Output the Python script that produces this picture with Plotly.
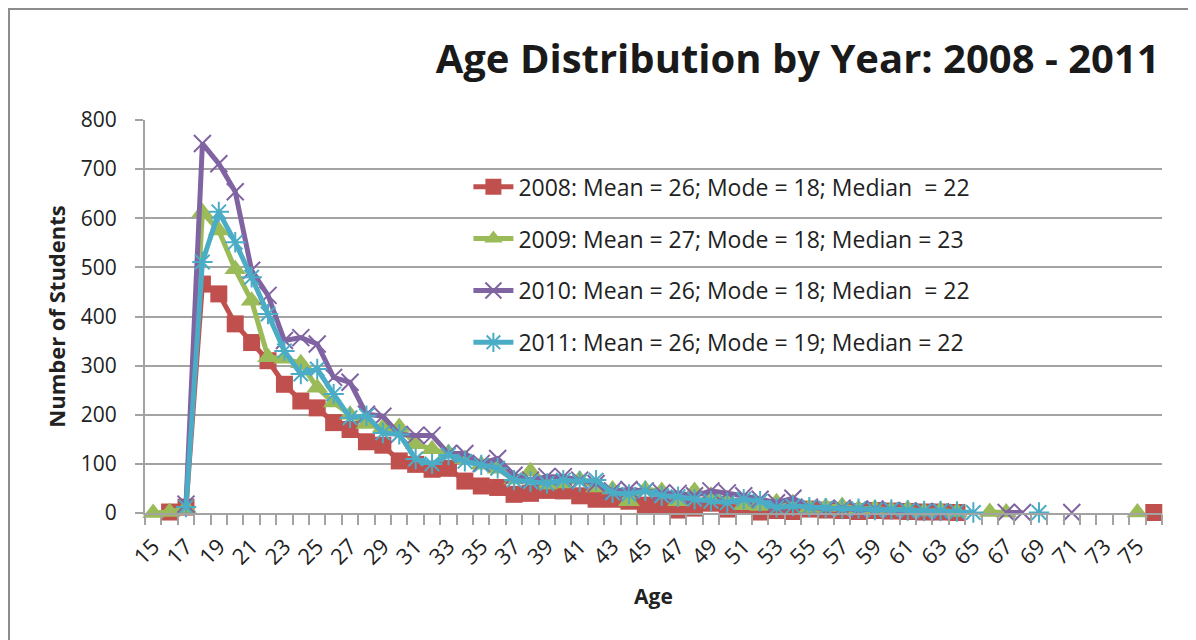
import plotly.graph_objects as go

# ages on the category axis
ages = list(range(15, 77))
age_labels = [str(a) for a in range(15, 76, 2)]

# number of students per age (None = no students that age)
students_2008 = [
    None, 2, 12, 466, 446, 385, 347, 310, 262, 228,
    214, 184, 170, 145, 138, 106, 99, 89, 91, 65,
    55, 52, 38, 40, 46, 45, 35, 28, 28, 24,
    16, 16, 6, 10, 20, 8, 14, 2, 5, 3,
    8, 6, 5, 3, 5, 4, 3, 2, 2, 1,
    None, None, None, None, None, None, None, None, None, None,
    None, 1,
]
students_2009 = [
    0, 2, 10, 612, 575, 496, 432, 317, 314, 305,
    255, 225, 200, 181, 174, 175, 140, 130, 122, 110,
    98, 90, 68, 85, 58, 60, 68, 52, 48, 24,
    48, 45, 24, 45, 35, 28, 16, 14, 22, 20,
    10, 12, 14, 8, 9, 6, 8, 3, 5, 2,
    None, 2, 1, None, None, None, None, None, None, None,
    1, None,
]
students_2010 = [
    None, None, 18, 752, 711, 654, 494, 443, 351, 357,
    344, 276, 266, 201, 197, 160, 158, 158, 121, 121,
    101, 111, 77, 67, 74, 74, 67, 60, 45, 48,
    45, 41, 40, 35, 45, 41, 35, 28, 21, 30,
    12, 8, 10, 6, 8, 5, 4, 3, 2, None,
    None, None, 1, 1, None, None, 1, None, None, None,
    None, None,
]
students_2011 = [
    None, None, 12, 511, 613, 551, 480, 405, 330, 283,
    293, 242, 194, 198, 163, 160, 110, 100, 118, 105,
    98, 91, 67, 64, 60, 67, 64, 67, 41, 38,
    45, 35, 33, 28, 24, 21, 28, 24, 11, 14,
    12, 10, 8, 9, 6, 7, 5, 4, 4, 3,
    1, None, None, None, 1, None, None, None, None, None,
    None, None,
]

series_names = [
    "2008: Mean = 26; Mode = 18; Median  = 22",
    "2009: Mean = 27; Mode = 18; Median = 23",
    "2010: Mean = 26; Mode = 18; Median  = 22",
    "2011: Mean = 26; Mode = 19; Median = 22",
]

FONT = "Open Sans"
GRID = "#a3a3a3"
TEXT = "#222222"

styles = [
    dict(color="#C0504D", symbol="square", size=17, line=dict(width=0)),
    dict(color="#9BBB59", symbol="triangle-up", size=19, line=dict(width=0)),
    dict(color="#8064A2", symbol="x-thin-open", size=17, line=dict(width=2, color="#8064A2")),
    dict(color="#4BACC6", symbol="asterisk-open", size=17, line=dict(width=2, color="#4BACC6")),
]

fig = go.Figure()
for i, (name, vals) in enumerate(zip(series_names,
                                     [students_2008, students_2009, students_2010, students_2011])):
    st = styles[i]
    fig.add_trace(go.Scatter(
        x=ages,
        y=vals,
        name=name,
        legendgroup=str(i),
        mode="lines+markers",
        connectgaps=False,
        cliponaxis=False,
        line=dict(color=st["color"], width=5),
        marker=dict(symbol=st["symbol"], size=st["size"], color=st["color"], line=st["line"]),
    ))

boundaries = [a + 0.5 for a in range(14, 77)]

fig.update_layout(
    width=1196,
    height=640,
    paper_bgcolor="white",
    plot_bgcolor="white",
    font=dict(family=FONT, color=TEXT),
    title=dict(
        text="<b>Age Distribution by Year: 2008 - 2011</b>",
        font=dict(family=FONT, size=40, color="#1a1a1a"),
        x=0.963, xanchor="right",
        y=0.92, yanchor="middle",
    ),
    margin=dict(l=137, r=42, t=112, b=135),
    xaxis=dict(
        range=[14.5, 76.5],
        tickmode="array",
        tickvals=list(range(15, 76, 2)),
        ticktext=age_labels,
        ticks="",
        tickangle=-45,
        tickfont=dict(size=22, color=TEXT),
        ticklabelstandoff=10,
        showline=True, linecolor=GRID, linewidth=2,
        showgrid=False, zeroline=False,
        minor=dict(tickmode="array", tickvals=boundaries, ticks="outside",
                   ticklen=10, tickwidth=2, tickcolor=GRID, showgrid=False),
        title=dict(text="<b>Age</b>", font=dict(size=21, color=TEXT), standoff=20),
    ),
    xaxis2=dict(
        overlaying="x", matches="x", anchor="y", side="bottom",
        tickmode="array", tickvals=boundaries,
        ticks="inside", ticklen=7, tickwidth=2, tickcolor=GRID,
        showticklabels=False, showgrid=False, showline=False, zeroline=False,
    ),
    yaxis=dict(
        range=[0, 800],
        dtick=100,
        ticks="outside", ticklen=8, tickwidth=2, tickcolor=GRID,
        tickfont=dict(size=21, color=TEXT),
        ticklabelstandoff=14,
        showgrid=True, gridcolor=GRID, gridwidth=2,
        showline=True, linecolor=GRID, linewidth=2,
        zeroline=False,
        title=dict(text="<b>Number of Students</b>", font=dict(size=22, color=TEXT), standoff=9),
    ),
    legend=dict(
        x=0.318, y=0.885, xanchor="left", yanchor="top",
        bgcolor="rgba(0,0,0,0)",
        font=dict(size=23, color=TEXT),
        tracegroupgap=19,
        itemwidth=40,
    ),
    shapes=[dict(
        type="rect", xref="paper", yref="paper",
        x0=-0.1337, x1=1.045, y0=-0.356, y1=1.2824,
        line=dict(color="#8c8c8c", width=2), fillcolor="rgba(0,0,0,0)",
        layer="below",
    )],
)

fig.write_html("out.html")
